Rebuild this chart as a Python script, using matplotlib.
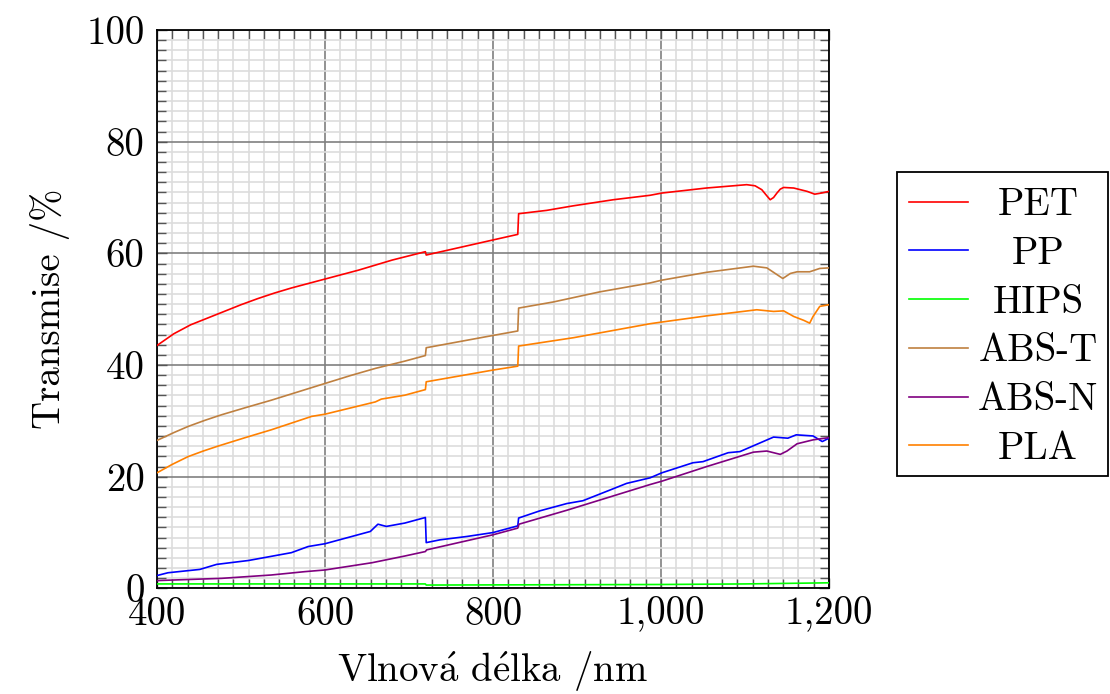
import matplotlib
matplotlib.use("Agg")
import matplotlib.pyplot as plt
from matplotlib.lines import Line2D
from matplotlib.patches import Rectangle
from matplotlib.ticker import AutoMinorLocator, FuncFormatter, MultipleLocator

# wavelength / transmittance
pet_x = [400, 420, 440, 460, 480, 500, 520, 540, 560, 580, 600, 640, 680, 719.5, 720.5, 800,
         829.5, 830.5, 864, 895, 943, 987, 1001, 1054, 1102, 1112, 1120, 1126, 1130, 1134,
         1138, 1142, 1146, 1158, 1174, 1183, 1191, 1200]
pet_y = [43.5, 45.6, 47.2, 48.4, 49.6, 50.8, 51.9, 52.9, 53.8, 54.6, 55.4, 57.0, 58.8, 60.3, 59.7,
         62.4, 63.4, 67.1, 67.7, 68.5, 69.6, 70.4, 70.8, 71.7, 72.3, 72.1, 71.4, 70.3, 69.6, 70.0,
         70.8, 71.5, 71.8, 71.7, 71.1, 70.6, 70.8, 71.1]

pp_x = [400, 413, 451, 471, 509, 560, 580, 600, 654, 663, 673, 695, 719.5, 720.5, 737, 769,
        800, 829.5, 830.5, 856, 888, 907, 939, 959, 987, 1001, 1038, 1050, 1080, 1094, 1134,
        1151, 1161, 1181, 1192, 1200]
pp_y = [2.3, 2.8, 3.4, 4.3, 5.0, 6.4, 7.5, 8.0, 10.2, 11.5, 11.1, 11.7, 12.7, 8.2, 8.7, 9.3,
        10.0, 11.2, 12.6, 13.9, 15.2, 15.7, 17.6, 18.8, 19.8, 20.7, 22.5, 22.7, 24.3, 24.5, 27.1,
        26.9, 27.5, 27.3, 26.3, 26.9]

hips_x = [400, 719.5, 720.5, 1000, 1100, 1200]
hips_y = [0.8, 0.8, 0.6, 0.7, 0.8, 1.0]

abst_x = [400, 420, 437, 457, 477, 506, 536, 568, 600, 630, 660, 695, 719.5, 720.5, 800, 829.5,
          830.5, 872, 927, 987, 1001, 1054, 1110, 1126, 1136, 1145, 1154, 1162, 1177, 1189, 1200]
abst_y = [26.5, 27.9, 29.0, 30.1, 31.1, 32.4, 33.7, 35.2, 36.7, 38.1, 39.4, 40.7, 41.7, 43.1, 45.3,
          46.1, 50.2, 51.3, 53.1, 54.7, 55.2, 56.6, 57.7, 57.4, 56.4, 55.5, 56.4, 56.7, 56.7, 57.3,
          57.4]

absn_x = [400, 477, 536, 576, 600, 656, 695, 719.5, 721, 800, 829.5, 831, 888, 987, 1001,
          1054, 1110, 1126, 1142, 1150, 1162, 1181, 1200]
absn_y = [1.4, 1.8, 2.4, 3.0, 3.3, 4.6, 5.8, 6.6, 6.9, 9.6, 10.8, 11.5, 14.0, 18.6, 19.2,
          21.8, 24.4, 24.6, 24.0, 24.6, 25.9, 26.6, 27.0]

pla_x = [400, 418, 437, 455, 473, 505, 536, 560, 584, 600, 630, 660, 667, 695, 719.5, 720.5,
         800, 829.5, 830.5, 896, 987, 1001, 1054, 1114, 1134, 1146, 1158, 1170, 1177, 1181,
         1189, 1200]
pla_y = [20.7, 22.2, 23.6, 24.6, 25.5, 27.0, 28.4, 29.6, 30.8, 31.2, 32.3, 33.4, 33.9, 34.6,
         35.6, 37.0, 39.1, 39.8, 43.4, 44.9, 47.4, 47.7, 48.8, 49.9, 49.6, 49.7, 48.7, 48.0, 47.5,
         48.7, 50.5, 50.8]

labels = ["PET", "PP", "HIPS", "ABS-T", "ABS-N", "PLA"]
colors = ["#ff0000", "#0000ff", "#00ff00", "#bf8040", "#800080", "#ff8000"]
series = [(pet_x, pet_y), (pp_x, pp_y), (hips_x, hips_y),
          (abst_x, abst_y), (absn_x, absn_y), (pla_x, pla_y)]

plt.rcParams['font.family'] = ['cmr10', 'DejaVu Serif']
plt.rcParams['axes.unicode_minus'] = False
plt.rcParams['mathtext.fontset'] = 'cm'
fs = 28

fig = plt.figure(figsize=(11.1, 6.94), dpi=100)
ax = fig.add_axes([157 / 1110, 1 - 588.4 / 694, 672 / 1110, 558.4 / 694])

for (xs, ys), lab, col in zip(series, labels, colors):
  ax.plot(xs, ys, color=col, lw=1.2, label=lab, zorder=3)

ax.set_xlim(400, 1200)
ax.set_ylim(0, 100)
ax.xaxis.set_major_locator(MultipleLocator(200))
ax.yaxis.set_major_locator(MultipleLocator(20))
ax.xaxis.set_minor_locator(AutoMinorLocator(11))
ax.yaxis.set_minor_locator(AutoMinorLocator(11))
ax.xaxis.set_major_formatter(FuncFormatter(lambda v, p: f"{int(v):,}"))
ax.yaxis.set_major_formatter(FuncFormatter(lambda v, p: f"{int(v)}"))

ax.grid(which='minor', color='#dddddd', lw=1.2, zorder=0)
ax.grid(which='major', color='#808080', lw=1.2, zorder=1)
ax.set_axisbelow(True)
ax.tick_params(which='both', direction='in', top=True, right=True, labelsize=fs,
               color='#555555', width=1)
ax.tick_params(which='major', length=7)
ax.tick_params(which='minor', length=6.5)
ax.tick_params(axis='x', pad=6)
ax.tick_params(axis='y', pad=9)
for s in ax.spines.values():
  s.set_linewidth(1.3)

# cmr10 has no precomposed accented letters, so build them with mathtext accents
ax.set_xlabel(r"Vlnov$\acute{\mathrm{a}}$ d$\acute{\mathrm{e}}$lka /nm", fontsize=fs, labelpad=12)
ax.set_ylabel("Transmise /%", fontsize=fs, labelpad=12)

# legend box drawn by hand so entries sit centred like pgfplots
box_l, box_r, box_t, box_b = 897, 1108, 172, 476
fig.add_artist(Rectangle((box_l / 1110, 1 - box_b / 694), (box_r - box_l) / 1110,
                         (box_b - box_t) / 694, transform=fig.transFigure,
                         fill=False, ec='black', lw=1.3))
for i, (lab, col) in enumerate(zip(labels, colors)):
  yc = 201.7 + i * 48.7
  fig.add_artist(Line2D([909 / 1110, 968 / 1110], [1 - yc / 694, 1 - yc / 694],
                        color=col, lw=1.2, transform=fig.transFigure))
  fig.text(1038 / 1110, 1 - (yc + 13.5) / 694, lab, fontsize=fs,
           ha='center', va='baseline')

fig.savefig("out.png", dpi=100)
